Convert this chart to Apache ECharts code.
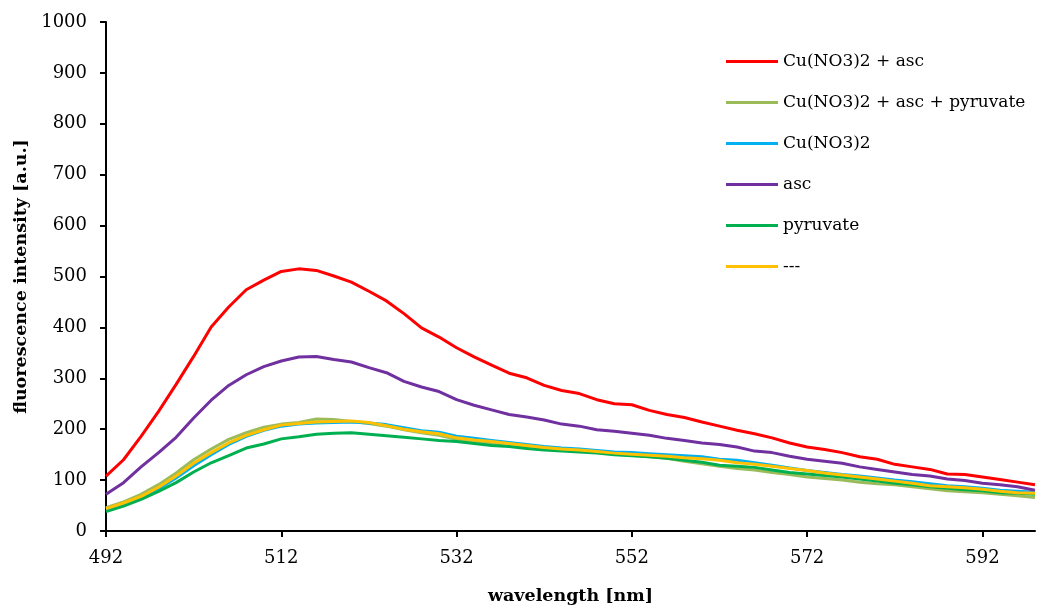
<!DOCTYPE html>
<html>
<head>
<meta charset="utf-8">
<script src="https://cdn.jsdelivr.net/npm/echarts@6/dist/echarts.min.js"></script>
<style>
  html, body { margin: 0; padding: 0; background: #fff; }
  #chart { width: 1041px; height: 605px; }
</style>
</head>
<body>
<div id="chart"></div>
<script>
// Emission spectra, sampled every 2 nm from 492 to 598 nm
const wavelengths = [];
for (let w = 492; w <= 598; w += 2) wavelengths.push(String(w));

const seriesNames = ['Cu(NO3)2 + asc', 'Cu(NO3)2 + asc + pyruvate', 'Cu(NO3)2', 'asc', 'pyruvate', '---'];
const seriesColors = ['#FF0000', '#9BBB59', '#00B0F0', '#7030A0', '#00B050', '#FFC000'];

const cuAsc = [108,140,186,235,288,343,401,440,474,493,
               510,515,512,501,489,471,452,427,399,381,
               360,342,326,310,301,286,276,270,258,250,
               248,237,229,223,214,206,198,191,183,173,
               165,160,154,146,141,131,126,121,112,111,
               106,101,96,91];
const cuAscPyruvate = [46,57,72,91,114,140,161,180,193,204,
                       210,213,220,219,215,211,206,199,193,188,
                       180,176,172,168,165,162,160,158,155,151,
                       149,146,143,137,132,127,123,120,115,111,
                       106,103,100,96,93,91,87,83,79,77,
                       75,72,69,66];
const cuOnly = [43,54,66,83,104,128,150,170,186,198,
                206,210,212,213,214,212,209,203,197,194,
                186,182,178,174,170,166,163,161,158,155,
                154,152,150,148,146,141,139,134,129,124,
                119,115,111,108,104,100,97,93,89,87,
                84,80,78,76];
const ascOnly = [72,95,126,154,184,222,257,286,307,323,
                 334,342,343,337,332,321,311,294,283,274,
                 258,247,238,229,224,218,210,206,199,196,
                 192,188,182,178,173,170,165,157,154,147,
                 141,137,133,126,121,116,111,108,102,99,
                 94,91,87,80];
const pyruvateOnly = [38,49,62,78,95,116,134,148,163,171,
                      181,185,190,192,193,190,187,184,181,178,
                      176,172,168,166,162,159,157,155,153,150,
                      148,146,143,139,135,129,127,125,120,115,
                      112,109,106,102,98,94,91,87,84,81,
                      79,75,74,72];
const blank = [44,55,68,86,108,133,154,173,188,199,
               208,211,214,215,216,213,207,200,195,191,
               183,179,176,172,168,164,161,159,156,153,
               151,149,147,144,142,139,134,131,127,123,
               119,114,110,106,102,98,94,89,87,85,
               82,78,75,74];

const yTicks = { min: 0, max: 1000, interval: 100 };

const allValues = [cuAsc, cuAscPyruvate, cuOnly, ascOnly, pyruvateOnly, blank];

const FONT = 'DejaVu Serif';

const chart = echarts.init(document.getElementById('chart'), null, { renderer: 'canvas' });

chart.setOption({
  animation: false,
  backgroundColor: '#ffffff',
  textStyle: { fontFamily: FONT },
  grid: { left: 106, right: 6, top: 22, bottom: 74, containLabel: false, outerBoundsMode: 'none' },
  legend: {
    orient: 'vertical',
    left: 726,
    top: 53,
    padding: 0,
    itemWidth: 52,
    itemHeight: 3,
    itemGap: 24,
    icon: 'rect',
    data: seriesNames.map((n, i) => ({
      name: n,
      itemStyle: { color: seriesColors[i] }
    })),
    textStyle: { fontFamily: FONT, fontSize: 17, color: '#000' }
  },
  xAxis: {
    type: 'category',
    data: wavelengths,
    boundaryGap: false,
    name: 'wavelength [nm]',
    nameLocation: 'middle',
    nameGap: 56,
    nameTextStyle: { fontFamily: FONT, fontWeight: 'bold', fontSize: 17.5, color: '#000' },
    axisLine: { lineStyle: { color: '#000', width: 2 } },
    axisTick: { show: true, interval: 9, length: 6, lineStyle: { color: '#000', width: 2 } },
    axisLabel: { interval: 9, margin: 18, fontFamily: FONT, fontSize: 18, color: '#000' },
    splitLine: { show: false }
  },
  yAxis: {
    type: 'value',
    min: yTicks.min,
    max: yTicks.max,
    interval: yTicks.interval,
    name: 'fluorescence intensity [a.u.]',
    nameLocation: 'middle',
    nameGap: 72,
    nameRotate: 90,
    nameTextStyle: { fontFamily: FONT, fontWeight: 'bold', fontSize: 17.5, color: '#000' },
    axisLine: { show: true, lineStyle: { color: '#000', width: 2 } },
    axisTick: { show: true, length: 6, lineStyle: { color: '#000', width: 2 } },
    axisLabel: { margin: 19, fontFamily: FONT, fontSize: 18, color: '#000', formatter: v => String(v) },
    splitLine: { show: false }
  },
  series: seriesNames.map((n, i) => ({
    name: n,
    type: 'line',
    data: allValues[i],
    symbol: 'none',
    showSymbol: false,
    smooth: false,
    color: seriesColors[i],
    lineStyle: { color: seriesColors[i], width: 3 },
    z: 2 + i
  }))
});
</script>
</body>
</html>
